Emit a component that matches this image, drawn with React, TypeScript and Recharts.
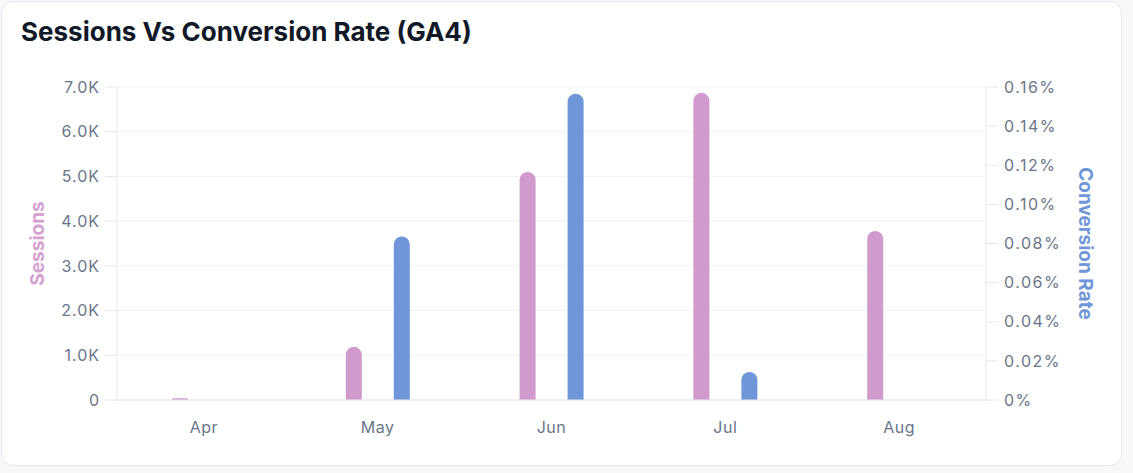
import React from 'react';
import { BarChart, Bar, XAxis, YAxis, CartesianGrid, Label } from 'recharts';

const months = ['Apr', 'May', 'Jun', 'Jul', 'Aug'];
const sessions = [40, 1190, 5100, 6870, 3780];
const conversionRate = [0, 0.0836, 0.1566, 0.0143, 0];

const sessionTicks = [0, 1000, 2000, 3000, 4000, 5000, 6000, 7000];
const rateTicks = [0, 0.02, 0.04, 0.06, 0.08, 0.1, 0.12, 0.14, 0.16];

const data = months.map((month, i) => ({ month, sessions: sessions[i], rate: conversionRate[i] }));

const PINK = '#d09acc';
const BLUE = '#6f96d8';
const TICK = '#6b7589';
const FONT = 'Inter, "Noto Sans", sans-serif';

const formatSessions = (v: number) => (v === 0 ? '0' : `${(v / 1000).toFixed(1)}K`);
const formatRate = (v: number) => (v === 0 ? '0%' : `${v.toFixed(2)}%`);

const sideLabel = (text: string, color: string, dx: number, angle: number) => (props: any) => {
  const vb = props.viewBox || {};
  const cx = vb.x + dx;
  const cy = vb.y + vb.height / 2;
  return (
    <text
      x={cx}
      y={cy}
      transform={`rotate(${angle}, ${cx}, ${cy})`}
      textAnchor="middle"
      dominantBaseline="central"
      fill={color}
      fontSize={19}
      fontWeight={700}
      fontFamily={FONT}
    >
      {text}
    </text>
  );
};

export default function App() {
  return (
    <div style={{ position: 'absolute', left: 0, top: 0, width: 1133, height: 473, background: '#f7f8fa', fontFamily: FONT }}>
      <div
        style={{
          position: 'absolute',
          left: 1,
          top: 1,
          width: 1121,
          height: 465,
          boxSizing: 'border-box',
          border: '1px solid #e4e7eb',
          borderRadius: 12,
          background: '#fff',
        }}
      />
      <div style={{ position: 'absolute', left: 21, top: 16, fontSize: 26, fontWeight: 700, color: '#111827' }}>
        Sessions Vs Conversion Rate (GA4)
      </div>
      <div style={{ position: 'absolute', left: 0, top: 0 }}>
        <BarChart width={1133} height={473} data={data} margin={{ top: 87, right: 0, bottom: 0, left: 0 }} barSize={16} barGap={32}>
          <CartesianGrid vertical={false} stroke="#f0f2f5" yAxisId="left" />
          <XAxis
            dataKey="month"
            height={73}
            tickLine={false}
            tickMargin={16}
            axisLine={{ stroke: '#e3e6ea' }}
            tick={{ fill: TICK, fontSize: 16, fontFamily: FONT, letterSpacing: 0.5 }}
          />
          <YAxis
            yAxisId="left"
            width={117}
            domain={[0, 7000]}
            ticks={sessionTicks}
            tickFormatter={formatSessions}
            tickSize={12}
            tickMargin={5}
            axisLine={{ stroke: '#e3e6ea' }}
            tickLine={{ stroke: '#e3e6ea' }}
            tick={{ fill: TICK, fontSize: 16, fontFamily: FONT, letterSpacing: 1 }}
          >
            <Label content={sideLabel('Sessions', '#d4a2d1', 37, -90)} />
          </YAxis>
          <YAxis
            yAxisId="right"
            orientation="right"
            width={147}
            domain={[0, 0.16]}
            ticks={rateTicks}
            tickFormatter={formatRate}
            tickSize={12}
            tickMargin={6}
            axisLine={{ stroke: '#e3e6ea' }}
            tickLine={{ stroke: '#e3e6ea' }}
            tick={{ fill: TICK, fontSize: 16, fontFamily: FONT, letterSpacing: 1.5 }}
          >
            <Label content={sideLabel('Conversion Rate', BLUE, 99, 90)} />
          </YAxis>
          <Bar yAxisId="left" dataKey="sessions" fill={PINK} radius={[8, 8, 0, 0]} isAnimationActive={false} />
          <Bar yAxisId="right" dataKey="rate" fill={BLUE} radius={[8, 8, 0, 0]} isAnimationActive={false} />
        </BarChart>
      </div>
    </div>
  );
}
